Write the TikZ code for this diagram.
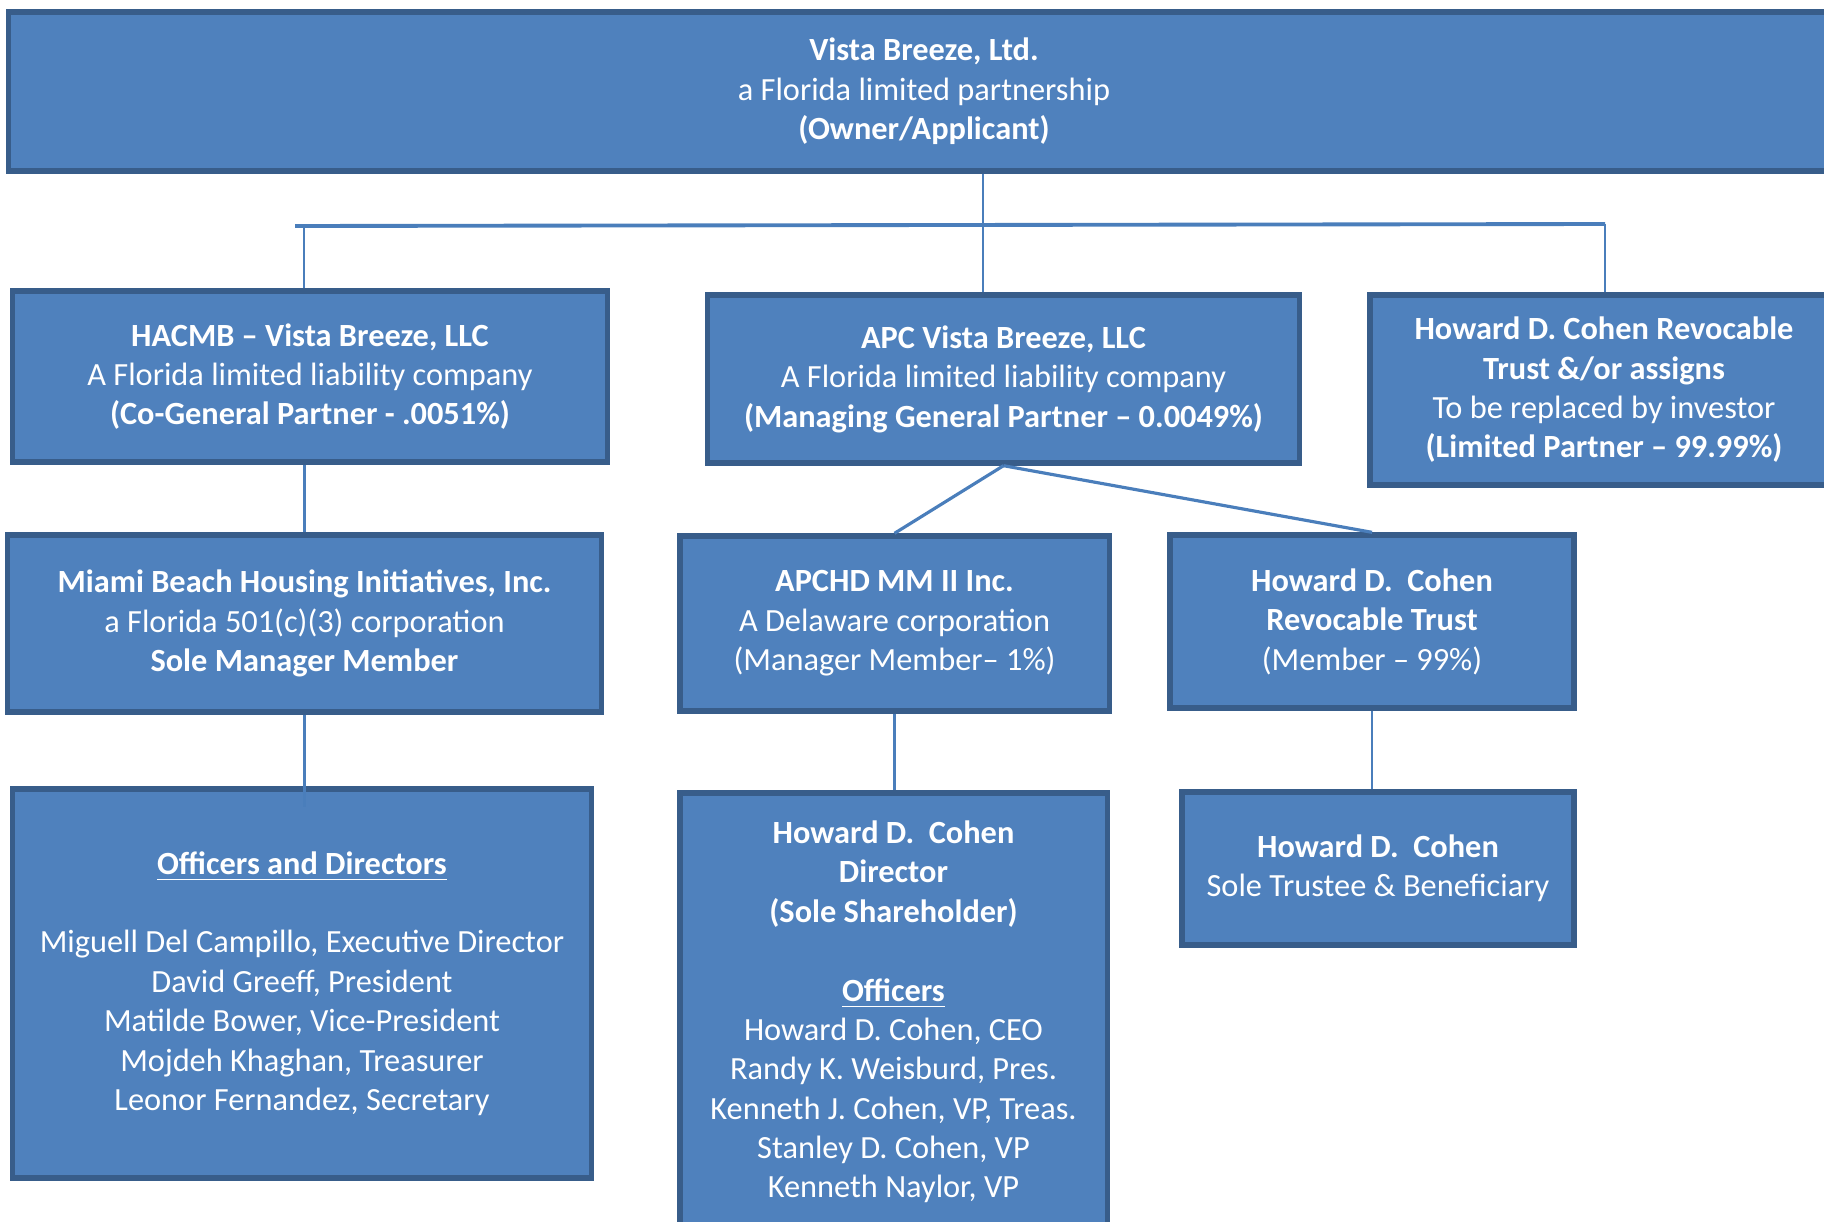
\documentclass[tikz,border=0pt]{standalone}
\usepackage{fontspec}
\setmainfont{Carlito}

\definecolor{boxfill}{HTML}{4F81BD}
\definecolor{boxline}{HTML}{385D8A}
\definecolor{linkblue}{HTML}{4A7EBB}

\tikzset{
    orgbox/.style={draw=boxline, fill=boxfill, line width=1.5pt, text=white,
        align=center, inner sep=0pt, font=\fontsize{9.2}{11.2}\selectfont},
    link/.style={draw=linkblue, line width=0.6pt}
}

\begin{document}
\begin{tikzpicture}[x=0.01cm, y=-0.01cm]
    \useasboundingbox (0,0) rectangle (1824,1221);
    \clip (0,0) rectangle (1824,1221);

    % Owner
    \node[orgbox, minimum width=18.30cm, minimum height=1.59cm] (owner) at (924,91.5)
        {\textbf{Vista Breeze, Ltd.}\\a Florida limited partnership\\\textbf{(Owner/Applicant)}};

    % Partners
    \node[orgbox, minimum width=5.94cm, minimum height=1.71cm] (hacmb) at (310,376.5)
        {\textbf{HACMB -- Vista Breeze, LLC}\\A Florida limited liability company\\\textbf{(Co-General Partner - .0051\%)}};
    \node[orgbox, minimum width=5.91cm, minimum height=1.68cm] (apc) at (1003.5,379)
        {\textbf{APC Vista Breeze, LLC}\\A Florida limited liability company\\\textbf{(Managing General Partner -- 0.0049\%)}};
    \node[orgbox, minimum width=4.68cm, minimum height=1.90cm] (assigns) at (1604,390)
        {\textbf{Howard D. Cohen Revocable}\\\textbf{Trust \&/or assigns}\\To be replaced by investor\\\textbf{(Limited Partner -- 99.99\%)}};

    % Members
    \node[orgbox, minimum width=5.93cm, minimum height=1.77cm] (miami) at (304.5,623.5)
        {\textbf{Miami Beach Housing Initiatives, Inc.}\\a Florida 501(c)(3) corporation\\\textbf{Sole Manager Member}};
    \node[orgbox, minimum width=4.29cm, minimum height=1.75cm] (apchd) at (894.5,623.5)
        {\textbf{APCHD MM II Inc.}\\A Delaware corporation\\(Manager Member-- 1\%)};
    \node[orgbox, minimum width=4.04cm, minimum height=1.73cm] (revtrust) at (1372,621.5)
        {\textbf{Howard D.\ \ Cohen}\\\textbf{Revocable Trust}\\(Member -- 99\%)};

    % Officers and owners
    \node[orgbox, minimum width=5.78cm, minimum height=3.89cm] (officers) at (302,983.5)
        {\textbf{\underline{Officers and Directors}}\\[11.2pt]
         Miguell Del Campillo, Executive Director\\David Greeff, President\\
         Matilde Bower, Vice-President\\Mojdeh Khaghan, Treasurer\\Leonor Fernandez, Secretary};
    \node[orgbox, minimum width=4.27cm, minimum height=4.38cm] (director) at (893.5,1012)
        {\textbf{Howard D.\ \ Cohen}\\\textbf{Director}\\\textbf{(Sole Shareholder)}\\[11.2pt]
         \textbf{\underline{Officers}}\\Howard D. Cohen, CEO\\Randy K. Weisburd, Pres.\\
         Kenneth J. Cohen, VP, Treas.\\Stanley D. Cohen, VP\\Kenneth Naylor, VP};
    \node[orgbox, minimum width=3.92cm, minimum height=1.53cm] (trustee) at (1378,868.5)
        {\textbf{Howard D.\ \ Cohen}\\Sole Trustee \& Beneficiary};

    % Connectors
    \coordinate (busL) at (295,226);
    \coordinate (busM) at (983,225);
    \coordinate (busR) at (1605,224);
    \draw[link, line width=1.1pt] (busL) -- (busR);
    \draw[link] (owner.south -| busM) -- (apc.north -| busM);
    \draw[link] (hacmb.north -| 304,0) -- (304,226);
    \draw[link] (busR) -- (assigns.north -| busR);
    \draw[link] (hacmb.south -| miami.north) -- (miami.north);
    \draw[link] (miami.south) -- ([yshift=-6]officers.north -| miami.south);
    \draw[link, line width=0.9pt] (apc.south) -- (apchd.north);
    \draw[link, line width=0.9pt] (apc.south) -- (revtrust.north);
    \draw[link] (apchd.south) -- (director.north -| apchd.south);
    \draw[link] (revtrust.south) -- (trustee.north -| revtrust.south);
\end{tikzpicture}
\end{document}
